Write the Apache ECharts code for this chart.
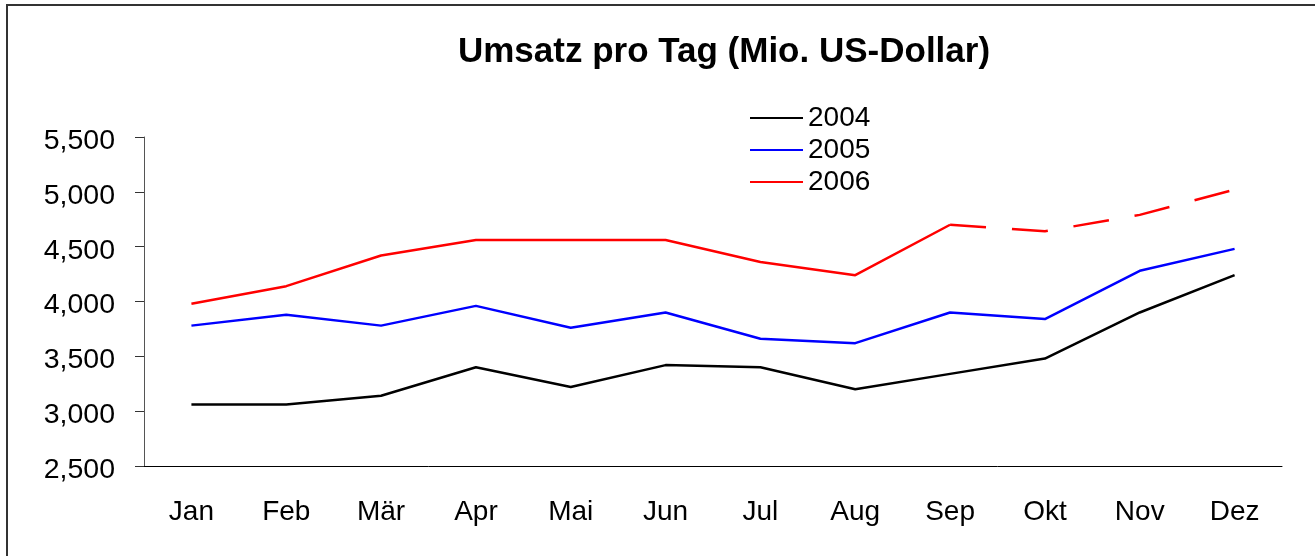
<!DOCTYPE html>
<html lang="de">
<head>
    <meta charset="UTF-8">
    <title>Umsatz pro Tag</title>
    <script src="https://cdn.jsdelivr.net/npm/echarts@6/dist/echarts.min.js"></script>
    <style type="text/css">
        html, body {
            margin: 0;
            padding: 0;
            background: #fff;
        }
        #main {
            width: 1315px;
            height: 556px;
        }
    </style>
</head>
<body>
<div id="main"></div>
<script>
    // Monate
    var months = ['Jan', 'Feb', 'Mär', 'Apr', 'Mai', 'Jun', 'Jul', 'Aug', 'Sep', 'Okt', 'Nov', 'Dez'];

    // Umsatz pro Tag, Mio. US-Dollar
    var y2004 = [3060, 3060, 3140, 3400, 3220, 3420, 3400, 3200, 3340, 3480, 3900, 4240];
    var y2005 = [3780, 3880, 3780, 3960, 3760, 3900, 3660, 3620, 3900, 3840, 4280, 4480];
    // 2006: Ist bis Sep, danach gestrichelt
    var y2006 = [3980, 4140, 4420, 4560, 4560, 4560, 4360, 4240, 4700, null, null, null];
    var y2006Est = [null, null, null, null, null, null, null, null, 4700, 4640, 4790, 5020];

    var font = '"Liberation Sans", Arial, sans-serif';

    var myChart = echarts.init(document.getElementById('main'));

    var option = {
        animation: false,
        backgroundColor: '#fff',
        textStyle: {fontFamily: font},
        title: {
            text: 'Umsatz pro Tag (Mio. US-Dollar)',
            left: 719,
            top: 30,
            textAlign: 'center',
            textStyle: {
                fontFamily: font,
                fontSize: 35,
                fontWeight: 'bold',
                color: '#000'
            }
        },
        legend: {
            data: ['2004', '2005', '2006'],
            orient: 'vertical',
            left: 745,
            top: 99,
            icon: 'rect',
            itemWidth: 53,
            itemHeight: 2,
            itemGap: 4,
            textStyle: {
                fontFamily: font,
                fontSize: 28,
                color: '#000'
            }
        },
        graphic: [{
            type: 'rect',
            shape: {x: 7, y: 5, width: 1400, height: 700},
            style: {fill: 'none', stroke: '#333', lineWidth: 2},
            silent: true
        }],
        grid: {
            left: 144,
            right: 33,
            top: 137,
            bottom: 90
        },
        xAxis: {
            type: 'category',
            data: months,
            boundaryGap: true,
            axisLine: {lineStyle: {color: '#000', width: 1}},
            axisTick: {length: 8, lineStyle: {color: '#333'}},
            axisLabel: {
                margin: 32,
                fontSize: 28,
                fontFamily: font,
                color: '#000'
            },
            splitLine: {show: false}
        },
        yAxis: {
            type: 'value',
            min: 2500,
            max: 5500,
            interval: 500,
            axisLine: {show: true, lineStyle: {color: '#555', width: 1}},
            axisTick: {show: true, length: 9, lineStyle: {color: '#333'}},
            axisLabel: {
                margin: 29,
                color: '#000',
                formatter: function (v) {
                    return '{v|' + v.toLocaleString('en-US') + '}';
                },
                rich: {
                    v: {
                        fontSize: 28.5,
                        fontFamily: font,
                        color: '#000',
                        padding: [8, 0, 0, 0]
                    }
                }
            },
            splitLine: {show: false}
        },
        series: [
            {
                name: '2004',
                type: 'line',
                data: y2004,
                symbol: 'none',
                color: '#000000',
                lineStyle: {color: '#000000', width: 2.5}
            },
            {
                name: '2005',
                type: 'line',
                data: y2005,
                symbol: 'none',
                color: '#0000ff',
                lineStyle: {color: '#0000ff', width: 2.5}
            },
            {
                name: '2006',
                type: 'line',
                data: y2006,
                symbol: 'none',
                color: '#ff0000',
                lineStyle: {color: '#ff0000', width: 2.5}
            },
            {
                name: '2006 Prognose',
                type: 'line',
                data: y2006Est,
                symbol: 'none',
                color: '#ff0000',
                lineStyle: {color: '#ff0000', width: 2.5, type: [36, 26]}
            }
        ]
    };
    myChart.setOption(option);
</script>
</body>
</html>
